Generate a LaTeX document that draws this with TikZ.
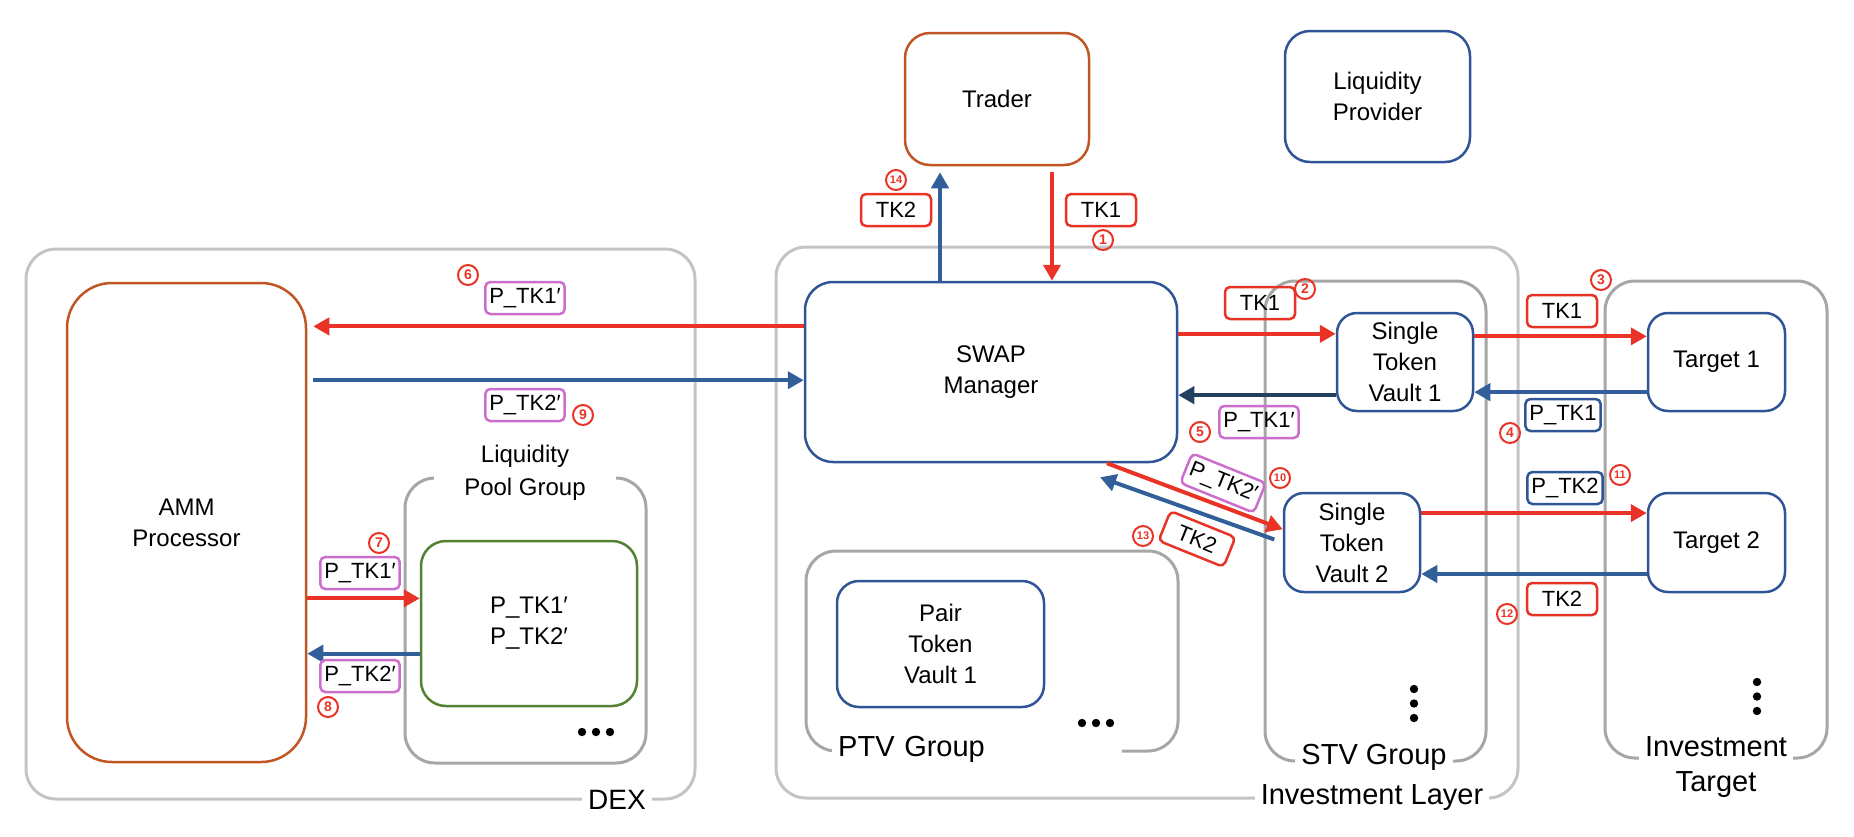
\documentclass[tikz,border=0pt]{standalone}
\usepackage{fontspec}
\setmainfont{Liberation Sans}
\usetikzlibrary{arrows.meta}
\usetikzlibrary{calc}
\definecolor{tkred}{RGB}{233,51,38}
\definecolor{tkblue}{RGB}{47,85,151}
\definecolor{arrblue}{RGB}{50,94,154}
\definecolor{arrnavy}{RGB}{35,64,96}
\definecolor{tkbrown}{RGB}{192,86,36}
\definecolor{tkgreen}{RGB}{84,130,53}
\definecolor{tkpurple}{RGB}{204,110,204}
\definecolor{grplight}{RGB}{196,196,196}
\definecolor{grpdark}{RGB}{166,166,166}

\begin{document}
\begin{tikzpicture}[x=1pt,y=-1pt,
  box/.style={draw=tkblue,fill=white,line width=2.5pt,rounded corners=22pt,inner sep=0pt,align=center,font=\fontsize{24}{31}\selectfont},
  group/.style={draw=grpdark,line width=3pt,rounded corners=30pt,inner sep=0pt},
  grplabel/.style={fill=white,inner ysep=2pt,inner xsep=6pt,align=center,font=\fontsize{29}{35}\selectfont},
  tag/.style={draw,line width=2.5pt,rounded corners=5pt,inner xsep=4pt,inner ysep=0pt,minimum width=70pt,minimum height=32pt,font=\fontsize{22}{26}\selectfont},
  num/.style={circle,draw=tkred,text=tkred,line width=2pt,inner sep=0pt,minimum size=20pt,font=\fontsize{14}{14}\bfseries\selectfont},
  numsmall/.style={num,font=\fontsize{11}{11}\bfseries\selectfont},
  redarr/.style={tkred,line width=4pt,-{Triangle[length=16pt,width=17pt]}},
  bluearr/.style={arrblue,line width=4pt,-{Triangle[length=16pt,width=17pt]}},
  navyarr/.style={arrnavy,line width=4pt,-{Triangle[length=16pt,width=17pt]}}]
  \useasboundingbox (0,0) rectangle (1854,836);
  \node[group,draw=grplight,minimum width=669pt,minimum height=550pt] (dex) at (360.5,524) {};
  \node[group,draw=grplight,minimum width=742pt,minimum height=551pt] (invlayer) at (1147,522.5) {};
  \node[group,minimum width=241pt,minimum height=285pt] (lpgroup) at (525.5,620.5) {};
  \node[group,minimum width=372pt,minimum height=200pt] (ptvgroup) at (992,651) {};
  \node[group,minimum width=221pt,minimum height=480pt] (stvgroup) at (1375.5,521) {};
  \node[group,minimum width=222pt,minimum height=477pt] (invtarget) at (1716,519.5) {};
  \node[grplabel,font=\fontsize{28}{34}\selectfont] (dexlabel) at (617,800) {DEX};
  \node[grplabel] (invlayerlabel) at (1372,798) {Investment Layer};
  \node[grplabel,font=\fontsize{24}{33}\selectfont,minimum width=182pt] (lpgrouplabel) at (525,473) {Liquidity\\Pool Group};
  \node[grplabel,anchor=west,text width=278pt,align=left] (ptvgrouplabel) at (832,749) {PTV Group};
  \node[grplabel] (stvgrouplabel) at (1374,757) {STV Group};
  \node[grplabel] (invtargetlabel) at (1716,767) {Investment\\Target};

  \node[box,draw=tkbrown,minimum width=184pt,minimum height=132pt,rounded corners=25pt] (trader) at (997,99) {Trader};
  \node[box,minimum width=185pt,minimum height=131pt,rounded corners=25pt] (lprovider) at (1377.5,96.5) {Liquidity\\Provider};
  \node[box,draw=tkbrown,minimum width=239pt,minimum height=479pt,rounded corners=45pt] (amm) at (186.5,522.5) {AMM\\Processor};
  \node[box,draw=tkgreen,minimum width=216pt,minimum height=165pt,rounded corners=25pt] (pool) at (529,623.5) {P\_TK1′\\P\_TK2′};
  \node[box,minimum width=372pt,minimum height=180pt,rounded corners=28pt] (swap) at (991,372) {SWAP\\Manager};
  \node[box,minimum width=207pt,minimum height=126pt] (ptv1) at (940.5,644) {Pair\\Token\\Vault 1};
  \node[box,minimum width=136pt,minimum height=98pt,rounded corners=20pt] (stv1) at (1405,362) {Single\\Token\\Vault 1};
  \node[box,minimum width=136pt,minimum height=99pt,rounded corners=20pt] (stv2) at (1352,542.5) {Single\\Token\\Vault 2};
  \node[box,minimum width=137pt,minimum height=98pt,rounded corners=20pt] (t1) at (1716.5,362) {Target 1};
  \node[box,minimum width=137pt,minimum height=99pt,rounded corners=20pt] (t2) at (1716.5,542.5) {Target 2};

  \coordinate (tk1x) at ([xshift=55pt]trader.south);
  \coordinate (tk2x) at ([xshift=-57pt]trader.south);
  \draw[redarr,shorten <=6pt] (tk1x) -- (tk1x |- swap.north);
  \draw[bluearr,shorten >=6pt] (tk2x |- swap.north) -- (tk2x);
  \coordinate (p6) at ($(swap.north west)!.25!(swap.south west)$);
  \coordinate (p9) at ($(swap.north west)!.545!(swap.south west)$);
  \draw[redarr,shorten >=6pt] (p6) -- (p6 -| amm.east);
  \draw[bluearr,shorten <=6pt] (p9 -| amm.east) -- (p9);
  \coordinate (p2) at ($(stv1.north west)!.22!(stv1.south west)$);
  \coordinate (p5) at ($(stv1.north west)!.83!(stv1.south west)$);
  \draw[redarr] (p2 -| swap.east) -- (p2);
  \draw[navyarr] (p5) -- (p5 -| swap.east);
  \coordinate (p3) at ($(t1.north west)!.245!(t1.south west)$);
  \coordinate (p4) at ($(t1.north west)!.8!(t1.south west)$);
  \draw[redarr] (p3 -| stv1.east) -- (p3);
  \draw[bluearr] (p4) -- (p4 -| stv1.east);
  \coordinate (p11) at ($(t2.north west)!.21!(t2.south west)$);
  \coordinate (p12) at ($(t2.north west)!.81!(t2.south west)$);
  \draw[redarr] (p11 -| stv2.east) -- (p11);
  \draw[bluearr] (p12) -- (p12 -| stv2.east);
  \coordinate (p7) at ($(pool.north west)!.35!(pool.south west)$);
  \coordinate (p8) at ($(pool.north west)!.68!(pool.south west)$);
  \draw[redarr] (p7 -| amm.east) -- (p7);
  \draw[bluearr] (p8) -- (p8 -| amm.east);
  \draw[redarr] ([xshift=116pt]swap.south) -- ($(stv2.north west)!.37!(stv2.south west)$);
  \draw[bluearr,shorten <=9pt] (stv2.west) -- ([xshift=109pt,yshift=-14pt]swap.south);

  \node[tag,draw=tkred] (tag1) at (1101,210) {TK1};
  \node[tag,draw=tkred] (tag2) at (1260,303) {TK1};
  \node[tag,draw=tkred] (tag3) at (1562,311) {TK1};
  \node[tag,draw=tkblue] (tag4) at (1563,415) {P\_TK1};
  \node[tag,draw=tkpurple] (tag5) at (1259,422) {P\_TK1′};
  \node[tag,draw=tkpurple] (tag6) at (525,298) {P\_TK1′};
  \node[tag,draw=tkpurple] (tag7) at (360,573) {P\_TK1′};
  \node[tag,draw=tkpurple] (tag8) at (360,676) {P\_TK2′};
  \node[tag,draw=tkpurple] (tag9) at (525,405) {P\_TK2′};
  \node[tag,draw=tkpurple,rotate=-22] (tag10) at (1223,483) {P\_TK2′};
  \node[tag,draw=tkblue] (tag11) at (1565,488) {P\_TK2};
  \node[tag,draw=tkred] (tag12) at (1562,599) {TK2};
  \node[tag,draw=tkred,rotate=-22] (tag13) at (1197,539) {TK2};
  \node[tag,draw=tkred] (tag14) at (896,210) {TK2};

  \node[num] (num1) at (1103,240) {1};
  \node[num] (num2) at (1305,289) {2};
  \node[num] (num3) at (1601,280) {3};
  \node[num] (num4) at (1510,433) {4};
  \node[num] (num5) at (1200,432) {5};
  \node[num] (num6) at (468,275) {6};
  \node[num] (num7) at (379,543) {7};
  \node[num] (num8) at (328,707) {8};
  \node[num] (num9) at (583,415) {9};
  \node[numsmall] (num10) at (1280,478) {10};
  \node[numsmall] (num11) at (1620,475) {11};
  \node[numsmall] (num12) at (1507,614) {12};
  \node[numsmall] (num13) at (1143,536) {13};
  \node[numsmall] (num14) at (896,180) {14};

  \foreach \dx in {0,14,28} \fill (582+\dx,732) circle (4.2pt);
  \foreach \dx in {0,14,28} \fill (1082+\dx,723) circle (4.2pt);
  \foreach \dy in {0,14.5,29} \fill (1414,689+\dy) circle (4.2pt);
  \foreach \dy in {0,14.5,29} \fill (1757,682+\dy) circle (4.2pt);
\end{tikzpicture}
\end{document}
